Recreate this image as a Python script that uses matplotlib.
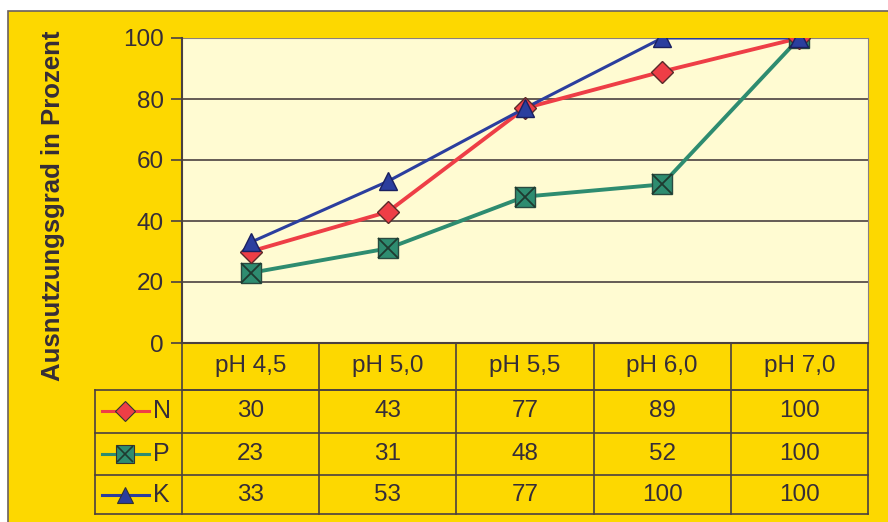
import matplotlib.pyplot as plt
from matplotlib.patches import Rectangle
from matplotlib.lines import Line2D
import matplotlib.transforms as mtransforms

plt.rcParams['font.family'] = ['Liberation Sans', 'DejaVu Sans']

# data
categories = ["pH 4,5", "pH 5,0", "pH 5,5", "pH 6,0", "pH 7,0"]
series_names = ["N", "P", "K"]
n_vals = [30, 43, 77, 89, 100]
p_vals = [23, 31, 48, 52, 100]
k_vals = [33, 53, 77, 100, 100]
yticks = [0, 20, 40, 60, 80, 100]

yellow = "#FDD800"
plotbg = "#FFFBD2"
txt = "#352d38"
grid = "#4a4040"
red = "#EE3E46"
teal = "#2E8C70"
blue = "#2B3E9E"
fs = 17.5

fig = plt.figure(figsize=(8.88, 5.22), dpi=100)
fig.patch.set_facecolor("white")
fig.patches.append(Rectangle((8/888, -0.02), 1.0, 1 - 11/522 + 0.02, transform=fig.transFigure,
                             facecolor=yellow, edgecolor="#6a6060", lw=1.2, zorder=-10))

ax = fig.add_axes([182/888, 1 - 343/522, 686/888, 305/522])
ax.set_facecolor(plotbg)
x = list(range(len(categories)))

ax.plot(x, p_vals, color=teal, lw=2.8, zorder=3)
ax.plot(x, p_vals, 's', ms=14.5, mfc=teal, mec="#2a4a40", mew=1, zorder=4)
ax.plot(x, p_vals, 'x', ms=14, mec="#1f3a30", mew=1.3, zorder=5)
ax.plot(x, n_vals, color=red, lw=2.8, zorder=3)
ax.plot(x, n_vals, 'D', ms=11.5, mfc=red, mec="#5a2a2a", mew=1, zorder=4)
ax.plot(x, k_vals, color=blue, lw=2.2, zorder=3)
ax.plot(x, k_vals, '^', ms=13.5, mfc=blue, mec="#1a2060", mew=1, zorder=6)

ax.set_xlim(-0.5, 4.5)
ax.set_ylim(0, 100)
ax.set_yticks(yticks)
ax.set_yticklabels([str(v) for v in yticks], fontsize=fs, color=txt)
ax.set_xticks([])
for v in yticks[1:-1]:
    ax.axhline(v, color=grid, lw=1.2, zorder=1)
ax.axhline(100, color="#8a8080", lw=0.8, zorder=1)
ax.tick_params(axis='y', length=8, width=1.2, color=grid, pad=5)
ax.spines['left'].set_color(grid)
ax.spines['left'].set_linewidth(1.5)
ax.spines['bottom'].set_color(grid)
ax.spines['bottom'].set_linewidth(1.5)
ax.spines['top'].set_visible(False)
ax.spines['right'].set_color("#8a8080")
ax.spines['right'].set_linewidth(0.8)

ax.set_ylabel("Ausnutzungsgrad in Prozent", fontsize=18.5, fontweight='bold', color=txt)
ax.yaxis.set_label_coords(-0.17, 0.45)

# data table below the plot
tr = mtransforms.blended_transform_factory(ax.transData, ax.transAxes)
row_edges = [0, -0.154, -0.295, -0.433, -0.561]
leg_left = -0.5 - 87 / 137.2
lc = dict(color=grid, lw=1.2, transform=tr, clip_on=False)

ax.plot([-0.5, 4.5], [row_edges[1]] * 2, **lc)
for yy in row_edges[1:]:
    ax.plot([leg_left, 4.5], [yy, yy], **lc)
ax.plot([leg_left, leg_left], [row_edges[1], row_edges[-1]], **lc)
for i in range(len(categories) + 1):
    ax.plot([i - 0.5, i - 0.5], [0, row_edges[-1]], **lc)

for i, c in enumerate(categories):
    ax.text(i, (row_edges[0] + row_edges[1]) / 2, c, transform=tr, ha='center', va='center',
            fontsize=fs, color=txt)

rows = [n_vals, p_vals, k_vals]
styles = [(red, 'D', red, 10), (teal, 's', teal, 13), (blue, '^', blue, 12)]
for r, vals in enumerate(rows):
    yc = (row_edges[r + 1] + row_edges[r + 2]) / 2
    for i, v in enumerate(vals):
        ax.text(i, yc, str(v), transform=tr, ha='center', va='center', fontsize=fs, color=txt)
    col, mk, fc, ms = styles[r]
    lx0, lx1 = leg_left + 0.05, leg_left + 0.39
    xm = (lx0 + lx1) / 2
    ax.add_line(Line2D([lx0, lx1], [yc, yc], color=col, lw=2.2, transform=tr, clip_on=False))
    ax.add_line(Line2D([xm], [yc], marker=mk, ms=ms, mfc=fc, mec="#333333",
                       mew=0.8, transform=tr, clip_on=False, ls='none'))
    if mk == 's':
        ax.add_line(Line2D([xm], [yc], marker='x', ms=12, mec="#1f3a30",
                           mew=1.2, transform=tr, clip_on=False, ls='none'))
    ax.text(leg_left + 0.42, yc, series_names[r], transform=tr, ha='left', va='center',
            fontsize=18, color=txt)

fig.savefig("out.png", dpi=100)
